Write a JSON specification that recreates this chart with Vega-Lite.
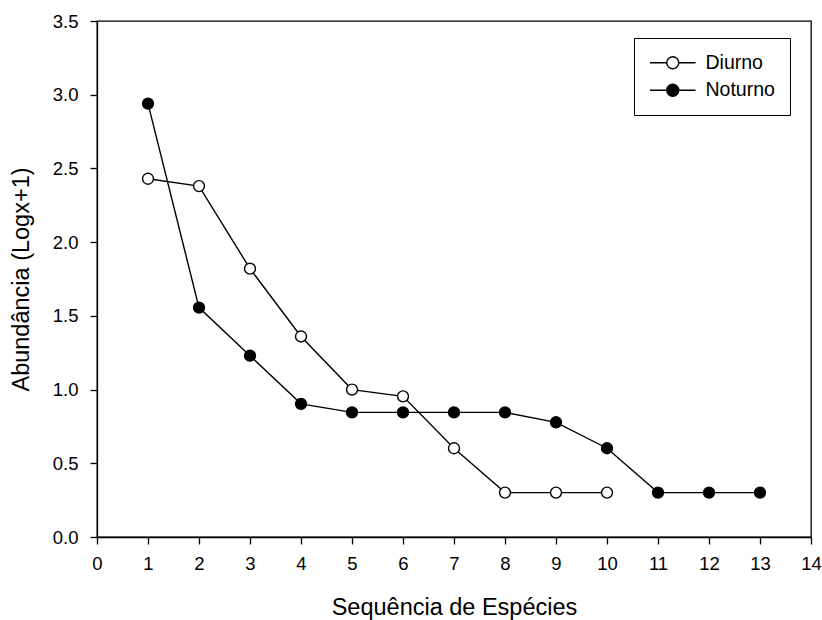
{
  "$schema": "https://vega.github.io/schema/vega-lite/v6.json",
  "width": 714,
  "height": 516,
  "autosize": {"type": "none"},
  "padding": {"left": 97, "top": 21, "right": 11, "bottom": 83},
  "background": "white",
  "config": {
    "font": "Liberation Sans",
    "view": {"stroke": "black", "strokeWidth": 1.3},
    "axis": {"grid": false, "domainColor": "black", "tickColor": "black", "labelColor": "black", "titleColor": "black", "labelFont": "Liberation Sans", "titleFont": "Liberation Sans", "titleFontWeight": "normal", "domainWidth": 1.3, "tickWidth": 1.3, "tickSize": 7}
  },
  "data": {
    "values": [
      {"serie": "Diurno", "x": 1, "y": 2.43},
      {"serie": "Diurno", "x": 2, "y": 2.38},
      {"serie": "Diurno", "x": 3, "y": 1.82},
      {"serie": "Diurno", "x": 4, "y": 1.36},
      {"serie": "Diurno", "x": 5, "y": 1.0},
      {"serie": "Diurno", "x": 6, "y": 0.954},
      {"serie": "Diurno", "x": 7, "y": 0.602},
      {"serie": "Diurno", "x": 8, "y": 0.301},
      {"serie": "Diurno", "x": 9, "y": 0.301},
      {"serie": "Diurno", "x": 10, "y": 0.301},
      {"serie": "Noturno", "x": 1, "y": 2.94},
      {"serie": "Noturno", "x": 2, "y": 1.556},
      {"serie": "Noturno", "x": 3, "y": 1.23},
      {"serie": "Noturno", "x": 4, "y": 0.903},
      {"serie": "Noturno", "x": 5, "y": 0.845},
      {"serie": "Noturno", "x": 6, "y": 0.845},
      {"serie": "Noturno", "x": 7, "y": 0.845},
      {"serie": "Noturno", "x": 8, "y": 0.845},
      {"serie": "Noturno", "x": 9, "y": 0.778},
      {"serie": "Noturno", "x": 10, "y": 0.602},
      {"serie": "Noturno", "x": 11, "y": 0.301},
      {"serie": "Noturno", "x": 12, "y": 0.301},
      {"serie": "Noturno", "x": 13, "y": 0.301}
    ]
  },
  "encoding": {
    "x": {"field": "x", "type": "quantitative", "scale": {"domain": [0, 14], "nice": false, "zero": false},
      "axis": {"values": [0,1,2,3,4,5,6,7,8,9,10,11,12,13,14], "format": "d", "title": "Sequência de Espécies", "labelFontSize": 18.5, "titleFontSize": 23.5, "labelPadding": 10, "titlePadding": 23, "labelFlush": false}},
    "y": {"field": "y", "type": "quantitative", "scale": {"domain": [0, 3.5], "nice": false},
      "axis": {"values": [0,0.5,1,1.5,2,2.5,3,3.5], "format": ".1f", "title": "Abundância (Logx+1)", "labelFontSize": 18.5, "titleFontSize": 23.5, "labelPadding": 12, "titlePadding": 19, "labelFlush": false}}
  },
  "layer": [
    {
      "mark": {"type": "line", "color": "black", "strokeWidth": 1.4},
      "encoding": {"detail": {"field": "serie"}}
    },
    {
      "mark": {"type": "point", "shape": "circle", "filled": true, "size": 120, "stroke": "black", "strokeWidth": 1.4, "opacity": 1},
      "encoding": {
        "fill": {"field": "serie", "type": "nominal", "scale": {"domain": ["Diurno", "Noturno"], "range": ["white", "black"]},
          "legend": {"title": null, "orient": "none", "legendX": 537, "legendY": 17, "strokeColor": "black", "padding": 15, "fillColor": "white",
            "symbolType": "M-3.8,0H-1M1,0H3.8M-1,0A1,1,0,1,0,1,0A1,1,0,1,0,-1,0", "symbolSize": 144, "symbolStrokeColor": "black", "symbolStrokeWidth": 1.4,
            "symbolOffset": 14, "labelOffset": 23, "labelFontSize": 19.5, "labelColor": "black", "rowPadding": 6.5}}
      }
    }
  ]
}
